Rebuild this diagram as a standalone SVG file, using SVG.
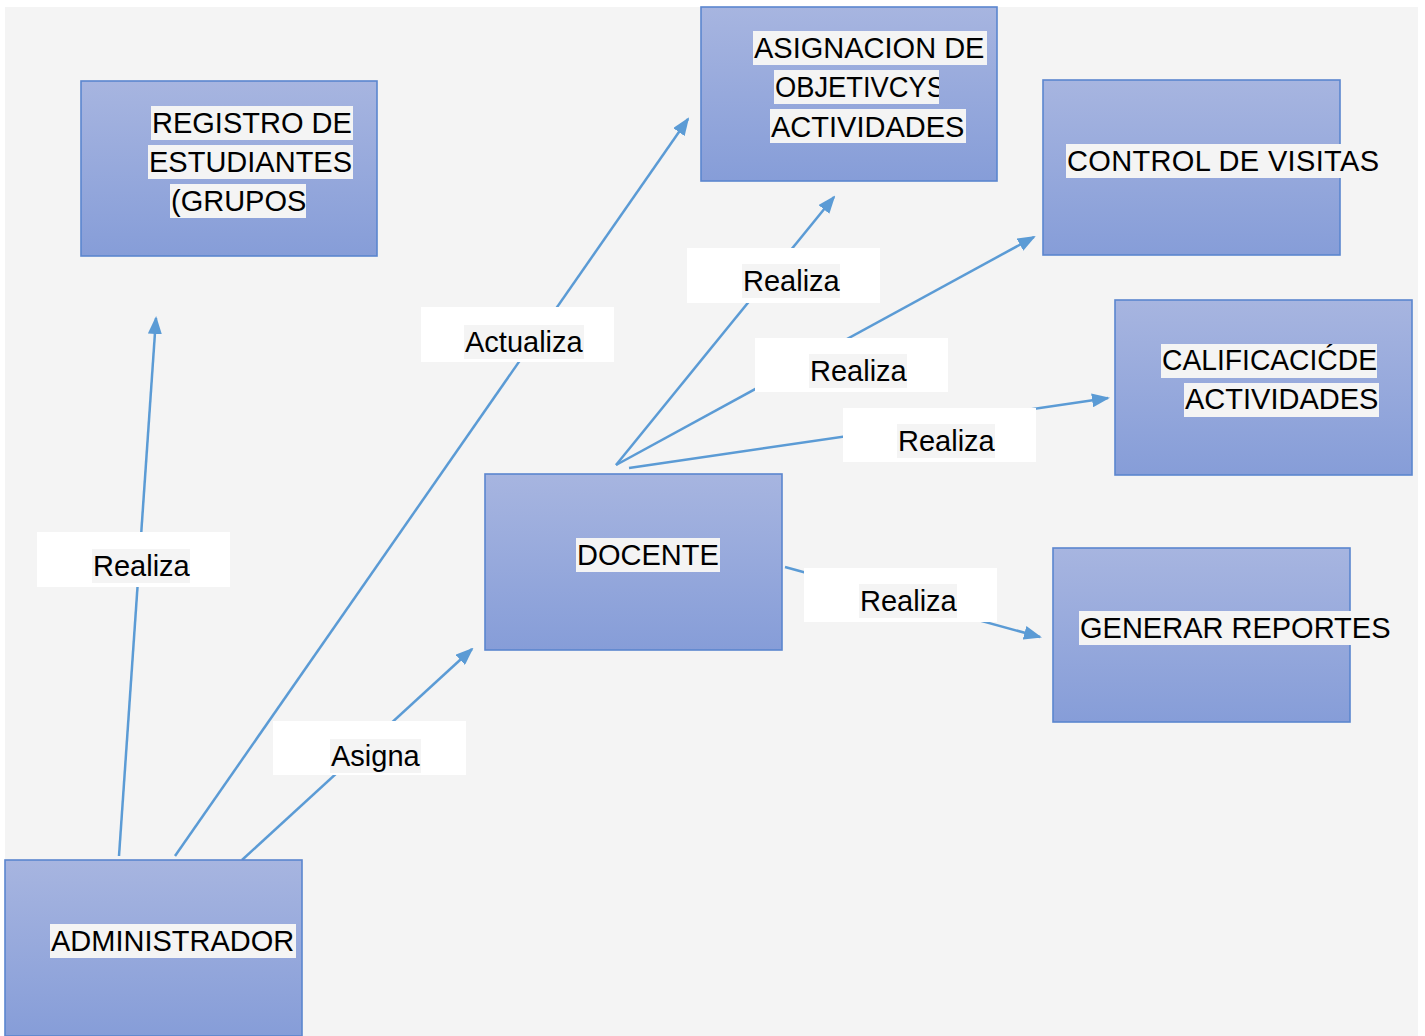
<svg xmlns="http://www.w3.org/2000/svg" width="1425" height="1036" viewBox="0 0 1425 1036">
  <style>
    .box { fill: url(#nodeFill); stroke: #5b86cf; stroke-width: 1.6; }
    .txt { font-family: "Liberation Sans", Arial, sans-serif; font-size: 29px; fill: #000; }
    .hl { fill: #f4f4f4; }
    .lbl { fill: #ffffff; }
    .edge { stroke: #5b9bd5; stroke-width: 2.5; fill: none; marker-end: url(#arrow); }
  </style>
  <defs>
    <linearGradient id="nodeFill" x1="0" y1="0" x2="0" y2="1">
      <stop offset="0" stop-color="#a7b5e0"/>
      <stop offset="1" stop-color="#869dd8"/>
    </linearGradient>
    <marker id="arrow" markerUnits="userSpaceOnUse" viewBox="0 0 18 14" markerWidth="18" markerHeight="14" refX="16" refY="7" orient="auto">
      <path d="M0,0 L18,7 L0,14 z" fill="#5b9bd5"/>
    </marker>
    <!-- hard edge: the line's ink stops at the highlight's right edge -->
    <linearGradient id="cutRight" gradientUnits="userSpaceOnUse" x1="0" y1="0" x2="1425" y2="0">
      <stop offset="0.6589" stop-color="#000" stop-opacity="1"/>
      <stop offset="0.6589" stop-color="#000" stop-opacity="0"/>
    </linearGradient>
  </defs>

  <!-- page background -->
  <rect x="0" y="0" width="1425" height="1036" fill="#ffffff"/>
  <rect x="5" y="7" width="1413" height="1029" fill="#f4f4f4"/>

  <!-- connectors -->
  <g id="connectors">
    <line class="edge" x1="119" y1="856" x2="156" y2="318"/>
    <line class="edge" x1="175" y1="856" x2="688" y2="119"/>
    <line class="edge" x1="242" y1="860" x2="472" y2="649"/>
    <line class="edge" x1="616" y1="465" x2="834" y2="197"/>
    <line class="edge" x1="616" y1="465" x2="1034" y2="237"/>
    <line class="edge" x1="629" y1="468" x2="1108" y2="398"/>
    <line class="edge" x1="785" y1="567" x2="1040" y2="637"/>

    <!-- connector labels -->
    <g id="lbl-admin-registro">
      <rect class="lbl" x="37" y="532" width="193" height="55"/>
      <rect class="hl" x="92" y="549" width="98" height="34"/>
      <text class="txt" x="93" y="576">Realiza</text>
    </g>
    <g id="lbl-admin-asignacion">
      <rect class="lbl" x="421" y="307" width="193" height="55"/>
      <rect class="hl" x="464" y="325" width="120" height="34"/>
      <text class="txt" x="465" y="352">Actualiza</text>
    </g>
    <g id="lbl-admin-docente">
      <rect class="lbl" x="273" y="721" width="193" height="54"/>
      <rect class="hl" x="330" y="739" width="91" height="34"/>
      <text class="txt" x="331" y="766">Asigna</text>
    </g>
    <g id="lbl-docente-asignacion">
      <rect class="lbl" x="687" y="248" width="193" height="55"/>
      <rect class="hl" x="742" y="264" width="98" height="34"/>
      <text class="txt" x="743" y="291">Realiza</text>
    </g>
    <g id="lbl-docente-control">
      <rect class="lbl" x="755" y="338" width="193" height="54"/>
      <rect class="hl" x="809" y="354" width="98" height="34"/>
      <text class="txt" x="810" y="381">Realiza</text>
    </g>
    <g id="lbl-docente-calificacion">
      <rect class="lbl" x="843" y="408" width="193" height="54"/>
      <rect class="hl" x="897" y="424" width="98" height="34"/>
      <text class="txt" x="898" y="451">Realiza</text>
    </g>
    <g id="lbl-docente-reportes">
      <rect class="lbl" x="804" y="568" width="193" height="54"/>
      <rect class="hl" x="859" y="584" width="98" height="34"/>
      <text class="txt" x="860" y="611">Realiza</text>
    </g>
  </g>

  <!-- nodes -->
  <g id="node-registro">
    <rect class="box" x="81" y="81" width="296" height="175"/>
    <rect class="hl" x="151" y="106" width="202" height="34"/>
    <rect class="hl" x="148" y="145" width="205" height="34"/>
    <rect class="hl" x="170" y="184" width="136" height="34"/>
    <text class="txt" x="152" y="133">REGISTRO DE</text>
    <text class="txt" x="149" y="172">ESTUDIANTES</text>
    <text class="txt" x="171" y="211">(GRUPOS</text>
  </g>

  <g id="node-asignacion">
    <rect class="box" x="701" y="7" width="296" height="174"/>
    <rect class="hl" x="753" y="31" width="234" height="34"/>
    <rect class="hl" x="774" y="70" width="165" height="34"/>
    <rect class="hl" x="770" y="109" width="196" height="34"/>
    <text class="txt" x="754" y="58">ASIGNACION DE</text>
    <text class="txt" x="775" y="97" textLength="170" lengthAdjust="spacingAndGlyphs" style="fill:url(#cutRight)">OBJETIVCYS</text>
    <text class="txt" x="771" y="137">ACTIVIDADES</text>
  </g>

  <g id="node-control">
    <rect class="box" x="1043" y="80" width="297" height="175"/>
    <rect class="hl" x="1066" y="144" width="314" height="34"/>
    <text class="txt" x="1067" y="171" textLength="312">CONTROL DE VISITAS</text>
  </g>

  <g id="node-calificacion">
    <rect class="box" x="1115" y="300" width="297" height="175"/>
    <rect class="hl" x="1161" y="344" width="216" height="34"/>
    <rect class="hl" x="1184" y="383" width="195" height="34"/>
    <text class="txt" x="1162" y="370" textLength="215" lengthAdjust="spacingAndGlyphs">CALIFICACIĆDE</text>
    <text class="txt" x="1185" y="409">ACTIVIDADES</text>
  </g>

  <g id="node-docente">
    <rect class="box" x="485" y="474" width="297" height="176"/>
    <rect class="hl" x="576" y="538" width="144" height="34"/>
    <text class="txt" x="577" y="565">DOCENTE</text>
  </g>

  <g id="node-reportes">
    <rect class="box" x="1053" y="548" width="297" height="174"/>
    <rect class="hl" x="1079" y="611" width="314" height="34"/>
    <text class="txt" x="1080" y="638">GENERAR REPORTES</text>
  </g>

  <g id="node-administrador">
    <rect class="box" x="5" y="860" width="297" height="176"/>
    <rect class="hl" x="50" y="924" width="246" height="34"/>
    <text class="txt" x="51" y="951">ADMINISTRADOR</text>
  </g>
</svg>
